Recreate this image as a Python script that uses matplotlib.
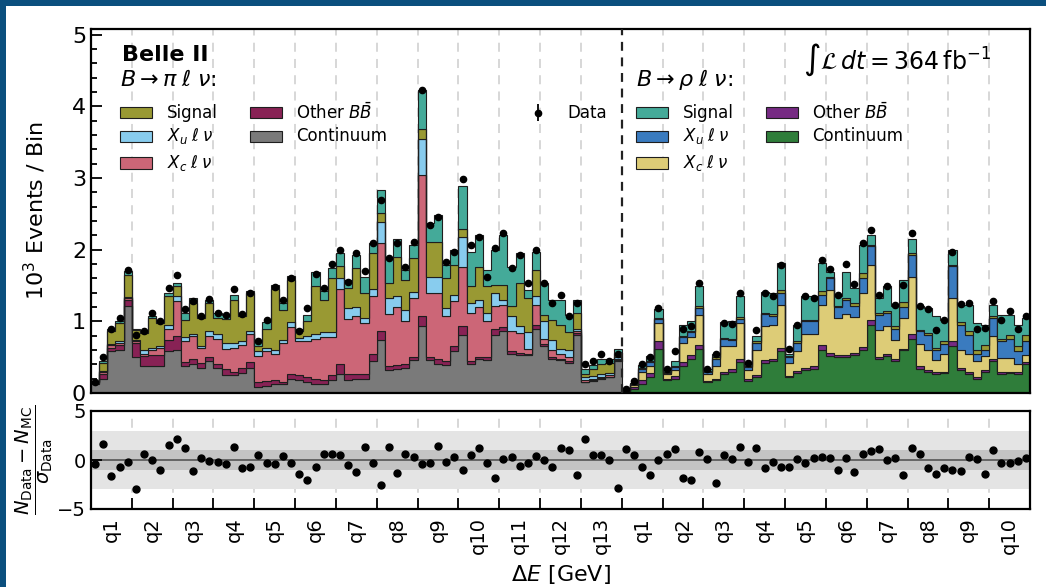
import numpy as np
import matplotlib.pyplot as plt
from matplotlib.patches import Rectangle

# ---- B -> pi l nu channel (65 bins, q1..q13), stack levels in 10^3 events ----
pi_cont = [0.12, 0.20, 0.58, 0.60, 1.21, 0.50, 0.37, 0.37, 0.37, 0.58,
           0.60, 0.38, 0.40, 0.35, 0.45, 0.35, 0.25, 0.25, 0.28, 0.35,
           0.09, 0.10, 0.12, 0.12, 0.20, 0.18, 0.15, 0.13, 0.12, 0.18,
           0.27, 0.18, 0.20, 0.19, 0.45, 0.74, 0.32, 0.34, 0.35, 0.46,
           0.93, 0.46, 0.41, 0.39, 0.58, 0.81, 0.41, 0.47, 0.46, 0.81,
           0.86, 0.55, 0.53, 0.53, 0.90, 0.65, 0.48, 0.46, 0.42, 0.81,
           0.15, 0.17, 0.20, 0.22, 0.45]
pi_other = [0.14, 0.26, 0.63, 0.67, 1.30, 0.70, 0.51, 0.53, 0.53, 0.74,
            0.79, 0.43, 0.47, 0.42, 0.50, 0.40, 0.33, 0.30, 0.35, 0.43,
            0.16, 0.17, 0.18, 0.16, 0.27, 0.25, 0.22, 0.20, 0.18, 0.25,
            0.40, 0.26, 0.27, 0.26, 0.55, 0.86, 0.37, 0.39, 0.40, 0.50,
            1.07, 0.50, 0.48, 0.44, 0.65, 0.93, 0.45, 0.50, 0.50, 0.90,
            0.92, 0.58, 0.56, 0.55, 0.95, 0.69, 0.50, 0.48, 0.45, 0.84,
            0.16, 0.18, 0.21, 0.23, 0.46]
pi_xc = [0.15, 0.30, 0.67, 0.70, 1.33, 0.72, 0.55, 0.60, 0.63, 0.90,
         1.28, 0.73, 0.80, 0.63, 0.80, 0.75, 0.62, 0.63, 0.67, 0.82,
         0.51, 0.58, 0.55, 0.70, 0.92, 0.72, 0.73, 0.75, 0.78, 0.78,
         1.45, 1.03, 1.08, 0.98, 1.35, 2.09, 1.10, 1.20, 1.00, 1.32,
         3.04, 1.39, 1.39, 1.07, 1.28, 1.76, 1.11, 1.20, 1.00, 1.21,
         1.23, 0.86, 0.84, 0.62, 1.23, 0.75, 0.60, 0.55, 0.50, 0.86,
         0.18, 0.20, 0.23, 0.25, 0.47]
pi_xu = [0.15, 0.31, 0.69, 0.72, 1.34, 0.74, 0.60, 0.63, 0.65, 0.95,
         1.35, 0.78, 0.83, 0.66, 0.86, 0.82, 0.70, 0.70, 0.72, 0.87,
         0.58, 0.63, 0.60, 0.74, 0.99, 0.77, 0.80, 0.82, 0.85, 0.85,
         1.60, 1.18, 1.20, 1.05, 1.45, 2.38, 1.32, 1.35, 1.16, 1.41,
         3.54, 1.62, 1.62, 1.18, 1.37, 2.18, 1.25, 1.30, 1.11, 1.39,
         1.30, 1.07, 0.93, 0.85, 1.35, 1.00, 0.74, 0.62, 0.60, 0.90,
         0.22, 0.24, 0.27, 0.28, 0.50]
pi_sig = [0.16, 0.42, 0.86, 0.97, 1.65, 0.88, 0.84, 1.05, 0.98, 1.35,
          1.49, 1.02, 1.25, 1.05, 1.25, 1.05, 1.03, 1.30, 1.07, 1.40,
          0.65, 0.90, 1.45, 1.16, 1.58, 0.86, 1.00, 1.50, 1.30, 1.61,
          1.77, 1.46, 1.75, 1.40, 1.95, 2.51, 1.53, 1.90, 1.58, 1.88,
          3.68, 2.11, 2.11, 1.60, 1.79, 2.29, 1.49, 1.76, 1.49, 1.51,
          1.51, 1.21, 1.53, 1.33, 1.72, 1.09, 1.02, 0.95, 0.85, 1.12,
          0.27, 0.33, 0.40, 0.42, 0.56]
pi_total = [0.17, 0.45, 0.90, 1.00, 1.70, 0.90, 0.88, 1.08, 1.02, 1.39,
            1.53, 1.11, 1.32, 1.09, 1.30, 1.11, 1.09, 1.37, 1.11, 1.43,
            0.72, 0.99, 1.51, 1.25, 1.63, 0.90, 1.09, 1.69, 1.42, 1.74,
            1.95, 1.58, 1.93, 1.62, 2.09, 2.84, 1.90, 2.15, 1.72, 2.07,
            4.23, 2.37, 2.49, 1.79, 2.00, 2.89, 1.97, 2.21, 1.72, 2.00,
            2.21, 1.76, 1.95, 1.44, 1.97, 1.53, 1.30, 1.30, 1.09, 1.30,
            0.34, 0.39, 0.48, 0.47, 0.62]
pi_data = [0.16, 0.50, 0.90, 1.04, 1.71, 0.81, 0.87, 1.11, 1.00, 1.46,
           1.65, 1.17, 1.29, 1.08, 1.31, 1.11, 1.09, 1.45, 1.10, 1.39,
           0.72, 1.02, 1.48, 1.30, 1.61, 0.87, 1.18, 1.66, 1.46, 1.80,
           1.99, 1.55, 1.95, 1.70, 2.09, 2.70, 1.88, 2.10, 1.76, 2.11,
           4.23, 2.35, 2.46, 1.83, 1.97, 2.98, 2.07, 2.18, 1.62, 2.02,
           2.23, 1.74, 1.93, 1.53, 2.00, 1.53, 1.25, 1.37, 1.07, 1.25,
           0.41, 0.45, 0.55, 0.45, 0.55]

# ---- B -> rho l nu channel (50 bins, q1..q10) ----
rho_cont = [0.02, 0.06, 0.13, 0.22, 0.62, 0.18, 0.20, 0.38, 0.48, 0.62,
            0.15, 0.18, 0.27, 0.30, 0.43, 0.17, 0.22, 0.42, 0.44, 0.58,
            0.22, 0.28, 0.32, 0.34, 0.60, 0.52, 0.50, 0.50, 0.53, 0.60,
            0.95, 0.47, 0.51, 0.45, 0.60, 0.76, 0.33, 0.30, 0.27, 0.28,
            0.65, 0.32, 0.27, 0.20, 0.30, 0.44, 0.27, 0.28, 0.27, 0.41]
rho_other = [0.025, 0.08, 0.18, 0.28, 0.72, 0.20, 0.24, 0.43, 0.53, 0.67,
             0.17, 0.20, 0.30, 0.34, 0.47, 0.19, 0.25, 0.46, 0.48, 0.63,
             0.24, 0.31, 0.35, 0.37, 0.67, 0.56, 0.53, 0.53, 0.56, 0.64,
             1.02, 0.50, 0.54, 0.47, 0.62, 0.83, 0.37, 0.32, 0.29, 0.30,
             0.72, 0.35, 0.29, 0.22, 0.32, 0.48, 0.29, 0.30, 0.29, 0.43]
rho_xc = [0.03, 0.11, 0.30, 0.38, 0.98, 0.26, 0.32, 0.70, 0.78, 1.09,
          0.27, 0.38, 0.66, 0.66, 0.97, 0.32, 0.60, 0.93, 0.95, 1.23,
          0.42, 0.58, 0.83, 0.83, 1.23, 1.44, 1.05, 1.10, 1.06, 1.39,
          1.79, 0.88, 0.93, 0.74, 1.04, 1.62, 0.69, 0.60, 0.46, 0.55,
          1.32, 0.60, 0.55, 0.44, 0.51, 0.79, 0.49, 0.49, 0.41, 0.53]
rho_xu = [0.035, 0.12, 0.33, 0.43, 1.03, 0.28, 0.36, 0.78, 0.85, 1.18,
          0.30, 0.48, 0.75, 0.74, 1.03, 0.36, 0.70, 1.10, 1.08, 1.39,
          0.50, 0.70, 1.00, 1.00, 1.37, 1.60, 1.20, 1.30, 1.22, 1.60,
          2.05, 1.09, 1.11, 0.90, 1.20, 1.93, 0.86, 0.81, 0.60, 0.69,
          1.77, 0.95, 0.81, 0.55, 0.60, 1.05, 0.72, 0.76, 0.58, 0.72]
rho_pisig = [0.037, 0.13, 0.35, 0.45, 1.05, 0.29, 0.38, 0.80, 0.87, 1.21,
             0.31, 0.50, 0.77, 0.76, 1.06, 0.37, 0.72, 1.12, 1.10, 1.44,
             0.51, 0.72, 1.02, 1.02, 1.42, 1.62, 1.22, 1.33, 1.25, 1.67,
             2.07, 1.11, 1.14, 0.93, 1.27, 1.95, 0.88, 0.84, 0.63, 0.73,
             1.79, 0.99, 0.86, 0.60, 0.67, 1.07, 0.76, 0.81, 0.65, 0.81]
rho_total = [0.04, 0.14, 0.39, 0.52, 1.17, 0.32, 0.45, 0.95, 1.00, 1.50,
             0.34, 0.55, 0.99, 1.00, 1.35, 0.41, 0.80, 1.41, 1.40, 1.82,
             0.55, 0.95, 1.36, 1.35, 1.81, 1.69, 1.35, 1.69, 1.46, 2.07,
             2.21, 1.32, 1.49, 1.21, 1.58, 2.15, 1.22, 1.18, 1.07, 1.02,
             2.00, 1.23, 1.23, 0.97, 0.95, 1.23, 1.09, 1.09, 0.95, 1.04]
rho_data = [0.05, 0.17, 0.41, 0.50, 1.18, 0.34, 0.58, 0.90, 0.93, 1.54,
            0.34, 0.54, 0.98, 0.96, 1.39, 0.42, 0.88, 1.39, 1.36, 1.79,
            0.61, 0.95, 1.36, 1.32, 1.85, 1.73, 1.37, 1.80, 1.52, 2.10,
            2.28, 1.37, 1.50, 1.23, 1.51, 2.23, 1.21, 1.17, 0.88, 1.02,
            1.97, 1.24, 1.25, 0.89, 0.91, 1.28, 1.02, 1.15, 0.90, 1.07]

# pull (N_data - N_MC) / sigma_data, 115 bins
pulls = [-0.37, 1.6, -1.63, -0.71, -0.17, -2.93, 0.58, 0.0, -1.0, 1.5,
         2.18, 1.26, -1.12, 0.17, -0.1, -0.24, -0.37, 1.36, -0.85, -0.71,
         0.51, -0.31, -0.44, 0.41, -0.31, -1.46, -2.07, -0.71, 0.65, 0.65,
         0.51, -0.48, -1.26, 1.29, -0.31, -2.59, 1.36, -1.36, 0.6, 0.3,
         -0.4, -0.3, 1.4, -0.2, 0.3, -1.0, 0.5, 1.2, -0.3, -1.8,
         0.1, 0.3, -0.6, -0.3, 0.4, 0.0, -0.7, 1.26, 0.99, -1.56,
         2.1, 0.51, 0.51, -0.03, -2.89,
         1.16, 0.51, -0.68, -1.56, 0.0, 0.58, 1.09, -1.8, -2.04, 0.82,
         0.07, -2.35, 0.51, 0.07, 1.36, -0.17, 1.26, -0.85, -0.2, -0.71,
         -0.68, 0.07, -0.27, 0.24, 0.31, 0.24, -1.05, 0.24, -1.22, 0.65,
         0.92, 1.09, 0.0, 0.24, -1.56, 1.26, 0.58, -0.85, -1.39, -0.78,
         -1.05, -1.12, 0.31, 0.14, -1.39, 1.02, -0.34, -0.34, -0.1, 0.17]

pi_labels = ['q%d' % i for i in range(1, 14)]
rho_labels = ['q%d' % i for i in range(1, 11)]

pi_colors = ['#7a7a7a', '#882255', '#cc6677', '#88ccee', '#999933', '#44aa99']
rho_colors = ['#2f7d3a', '#762a83', '#ddcc77', '#3a7bbf', '#999933', '#44aa99']

fig = plt.figure(figsize=(10.46, 5.87), dpi=100)
fig.patch.set_facecolor('#0b4f7e')
fig.patches.append(Rectangle((6 / 1046, 0), 1, 1 - 6 / 587, transform=fig.transFigure,
                             facecolor='white', edgecolor='none', zorder=-10))

ax = fig.add_axes([91 / 1046, 1 - 393 / 587, 939 / 1046, 364 / 587])
rax = fig.add_axes([91 / 1046, 1 - 509 / 587, 939 / 1046, 98 / 587])

n_pi = len(pi_total)
n_all = n_pi + len(rho_total)
edges = np.arange(n_all + 1)
centers = edges[:-1] + 0.5

# stacked step histograms
for levels, cols, e in [([pi_cont, pi_other, pi_xc, pi_xu, pi_sig, pi_total], pi_colors, edges[:n_pi + 1]),
                        ([rho_cont, rho_other, rho_xc, rho_xu, rho_pisig, rho_total], rho_colors, edges[n_pi:])]:
    base = np.zeros(len(levels[0]))
    for lev, c in zip(levels, cols):
        lev = np.array(lev)
        ax.stairs(lev, e, baseline=base, fill=True, facecolor=c,
                  edgecolor='#1e1e1e', linewidth=0.8, zorder=2)
        base = lev

data = np.array(pi_data + rho_data)
ax.errorbar(centers, data, yerr=0.035, fmt='o', color='black', ms=4.5,
            elinewidth=1.3, capsize=0, zorder=5)

major = np.arange(0, n_all + 1, 5)
for x in major[1:-1]:
    if x == n_pi:
        continue
    ax.axvline(x, color='#d4d4d4', ls=(0, (5, 4)), lw=1.3, zorder=0)
    rax.axvline(x, color='#d4d4d4', ls=(0, (5, 4)), lw=1.3, zorder=0)
ax.axvline(n_pi, color='#222222', ls=(0, (4, 3)), lw=1.6, zorder=6)

ax.set_xlim(0, n_all)
ax.set_ylim(0, 5.08)
ax.set_xticks(major)
ax.set_xticks(major[:-1] + 2.5, minor=True)
ax.set_xticklabels([])
ax.set_yticks([0, 1, 2, 3, 4, 5])
ax.set_yticks(np.arange(0, 5.01, 0.2), minor=True)
ax.tick_params(which='both', direction='in', top=False, right=False, labelsize=16, width=1.3)
ax.tick_params(which='major', length=8)
ax.tick_params(which='minor', length=4)
ax.set_ylabel(r'$10^3$ Events / Bin', fontsize=16)
ax.yaxis.set_label_coords(-0.046, 0.5)
for s in ax.spines.values():
    s.set_linewidth(1.6)

# legends and labels
ax.text(3.8, 4.72, 'Belle II', fontsize=16, fontweight='bold', va='center')
ax.text(3.5, 4.37, r'$B \rightarrow \pi\;\ell\;\nu$:', fontsize=16, va='center')
ax.text(66.7, 4.37, r'$B \rightarrow \rho\;\ell\;\nu$:', fontsize=16, va='center')
ax.text(87.2, 4.65, r'$\int \mathcal{L}\,dt = 364\,\mathrm{fb}^{-1}$', fontsize=17, va='center')

names = [r'Signal', r'$X_u\;\ell\;\nu$', r'$X_c\;\ell\;\nu$', r'Other $B\bar{B}$', 'Continuum']
slots = [(0, 3.91), (0, 3.58), (0, 3.21), (1, 3.91), (1, 3.58)]
for x0, cols, order in [(3.55, pi_colors, [4, 3, 2, 1, 0]), (66.75, rho_colors, [5, 3, 2, 1, 0])]:
    for (colno, yc), name, k in zip(slots, names, order):
        px = x0 + colno * 15.9
        ax.add_patch(Rectangle((px, yc - 0.077), 3.9, 0.154, facecolor=cols[k],
                               edgecolor='#1e1e1e', lw=0.8, zorder=7))
        ax.text(px + 5.7, yc, name, fontsize=12, va='center', zorder=7)
ax.errorbar([54.75], [3.91], yerr=0.12, fmt='o', color='black', ms=4.5, elinewidth=1.3, zorder=7)
ax.text(58.3, 3.91, 'Data', fontsize=12, va='center')

# pull panel
rax.axhspan(-3, 3, color='#e4e4e4', zorder=0.5, lw=0)
rax.axhspan(-1, 1, color='#c4c4c4', zorder=0.6, lw=0)
rax.axhline(0, color='#555555', lw=1.2, zorder=1)
rax.plot(centers, pulls, 'o', color='black', ms=5, zorder=5)
rax.set_xlim(0, n_all)
rax.set_ylim(-5, 5)
rax.set_yticks([-5, 0, 5])
rax.set_xticks(major)
rax.set_xticklabels([])
rax.set_xticks(major[:-1] + 2.5, minor=True)
rax.set_xticklabels(pi_labels + rho_labels, minor=True, rotation=90, fontsize=14)
rax.tick_params(which='both', direction='in', top=False, right=False, width=1.3)
rax.tick_params(which='major', length=8, labelsize=14)
rax.tick_params(which='minor', length=0, pad=6)
rax.set_ylabel(r'$\dfrac{N_{\mathrm{Data}} - N_{\mathrm{MC}}}{\sigma_{\mathrm{Data}}}$', fontsize=14)
rax.yaxis.set_label_coords(-0.038, 0.5)
rax.set_xlabel(r'$\Delta E$ [GeV]', fontsize=16)
rax.xaxis.set_label_coords(0.5, -0.55)
for s in rax.spines.values():
    s.set_linewidth(1.6)

fig.savefig('out.png', dpi=100, facecolor=fig.get_facecolor())
